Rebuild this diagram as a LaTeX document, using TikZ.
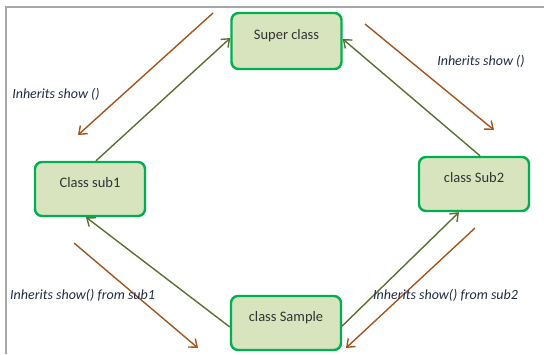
\documentclass[tikz,border=0pt]{standalone}
\usepackage{fontspec}
\setmainfont{Carlito}
\usetikzlibrary{positioning,arrows.meta}
\definecolor{boxfill}{HTML}{D7E4BD}
\definecolor{boxline}{HTML}{00B050}
\definecolor{olivearrow}{HTML}{5B6F33}
\definecolor{brownarrow}{HTML}{A5541B}
\definecolor{labeltext}{HTML}{1F2A44}
\definecolor{frameline}{HTML}{A6A6A6}
\tikzset{
  classbox/.style={draw=boxline, line width=2.4pt, rounded corners=7pt, fill=boxfill, minimum width=110pt, minimum height=54pt, text height=9pt, text depth=13pt, font=\fontsize{14.5}{16}\selectfont, text=black!80},
  extendarrow/.style={-{Straight Barb[length=7pt, width=11pt]}, draw=olivearrow, line width=1.4pt},
  inheritarrow/.style={-{Straight Barb[length=7pt, width=11pt]}, draw=brownarrow, line width=1.4pt},
  inheritnote/.style={font=\itshape\fontsize{14}{16}\selectfont, text=labeltext, inner sep=0pt}
}

\begin{document}
\begin{tikzpicture}[x=1pt, y=-1pt]
  \useasboundingbox (0,0) rectangle (544,354);
  % frame lines
  \draw[frameline, line width=1.2pt] (6,354) -- (6,7) -- (544,7);

  % classes
  \node[classbox, minimum height=56pt] (super) at (286.5,41) {Super class};
  \node[classbox] (sub1) at (90,189) {Class sub1};
  \node[classbox] (sub2) at (474,184) {class Sub2};
  \node[classbox] (sample) at (286,323) {class Sample};

  % extends
  \draw[extendarrow] ([xshift=6pt]sub1.north) -- ([yshift=3pt]super.west);
  \draw[extendarrow] ([xshift=6pt]sub2.north) -- ([yshift=2pt]super.east);
  \draw[extendarrow] ([yshift=-4pt]sample.west) -- ([xshift=-4pt]sub1.south);
  \draw[extendarrow] ([yshift=-3pt]sample.east) -- ([xshift=-15pt]sub2.south);

  % inherited methods
  \coordinate (tl1) at (213,13);  \coordinate (tl2) at (78,135);
  \coordinate (tr1) at (365,24);  \coordinate (tr2) at (494,130);
  \coordinate (bl1) at (74,243);  \coordinate (bl2) at (198,348);
  \coordinate (br1) at (475,228); \coordinate (br2) at (346,348);
  \draw[inheritarrow] (tl1) -- (tl2);
  \draw[inheritarrow] (tr1) -- (tr2);
  \draw[inheritarrow] (bl1) -- (bl2);
  \draw[inheritarrow] (br1) -- (br2);

  \node[inheritnote] (n1) at (56,94) {Inherits show ()};
  \node[inheritnote] (n2) at (481,61) {Inherits show ()};
  \node[inheritnote, anchor=west] (n3) at (10,295) {Inherits show() from sub1};
  \node[inheritnote, anchor=west] (n4) at (373,295) {Inherits show() from sub2};
\end{tikzpicture}
\end{document}
